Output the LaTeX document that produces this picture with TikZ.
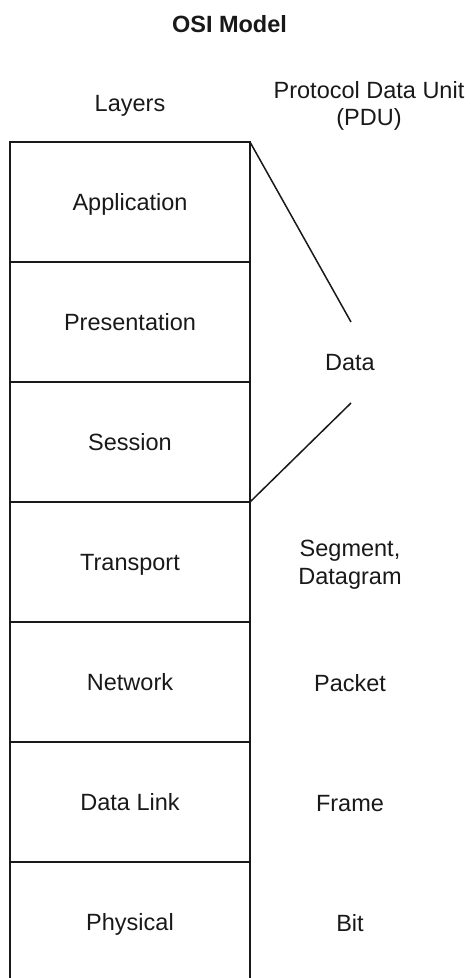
\documentclass[tikz,border=0pt]{standalone}
\usepackage{fontspec}
\setmainfont{Liberation Sans}
\begin{document}
\begin{tikzpicture}[x=1pt,y=-1pt,
  txt/.style={font=\fontsize{23.5}{27.5}\selectfont, inner sep=0pt, outer sep=0pt, align=center, text=black!90},
  layer/.style={draw=black!90, line width=2pt, minimum width=240pt, minimum height=120pt,
    inner sep=0pt, outer sep=0pt, text height=16pt, text depth=0pt,
    font=\fontsize{23.5}{27.5}\selectfont, text=black!90},
  split/.style={draw=black!90, line width=1.5pt}]
\useasboundingbox (0,0) rectangle (471,978);
\clip (0,0) rectangle (471,978);
% headings
\node[txt, anchor=base, font=\fontsize{23.5}{27.5}\selectfont\bfseries] (title) at (229.5,32) {OSI Model};
\node[txt, anchor=base] (layers) at (130,111) {Layers};
\node[txt, anchor=base] (pdu) at (369,125.5) {Protocol Data Unit\\(PDU)};
% layer stack
\node[layer] (app) at (130,202) {Application};
\node[layer] (pres) at (130,322) {Presentation};
\node[layer] (sess) at (130,442) {Session};
\node[layer] (trans) at (130,562) {Transport};
\node[layer] (net) at (130,682) {Network};
\node[layer] (dl) at (130,802) {Data Link};
\node[layer] (phys) at (130,922) {Physical};
% PDU labels
\node[txt, anchor=base] (data) at (350,370) {Data};
\node[txt, anchor=base] (seg) at (350,584) {Segment,\\Datagram};
\node[txt, anchor=base] (packet) at (350,691) {Packet};
\node[txt, anchor=base] (frame) at (350,811) {Frame};
\node[txt, anchor=base] (bit) at (350,931) {Bit};
% bracket lines
\coordinate (dtop) at (351,322);
\coordinate (dbot) at (351,403);
\draw[split] (app.north east) -- (dtop);
\draw[split] (sess.south east) -- (dbot);
\end{tikzpicture}
\end{document}
